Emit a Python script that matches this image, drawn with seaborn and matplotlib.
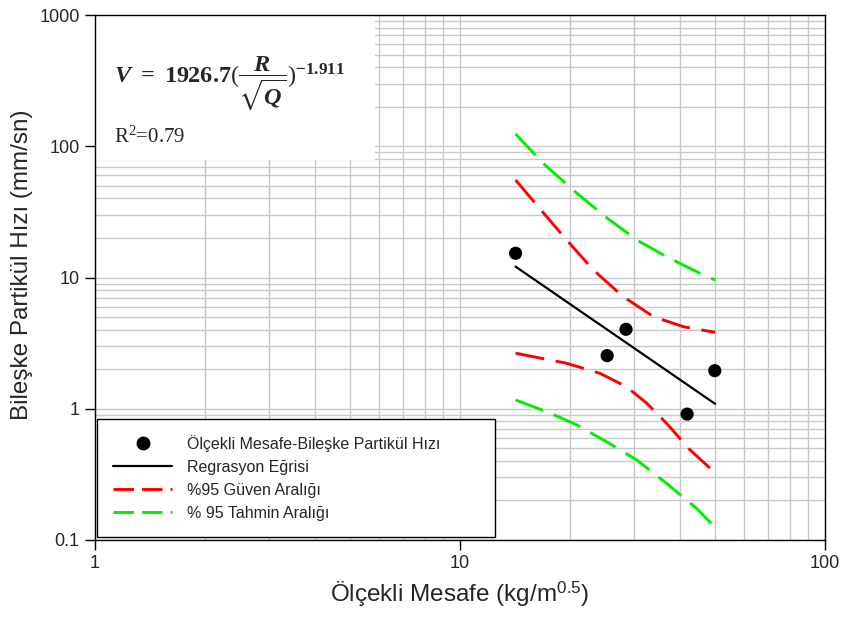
import matplotlib
matplotlib.use("Agg")
import matplotlib.pyplot as plt
import matplotlib.patches as mpatches
from matplotlib.lines import Line2D
import seaborn as sns

# ---- data ----
pts_x = [14.2, 25.3, 28.5, 41.9, 49.9]
pts_y = [15.3, 2.54, 4.03, 0.91, 1.95]

reg_x = [14.2, 50.0]
reg_y = [12.1, 1.09]

ci_up_x = [14.2, 16.6, 19.6, 23.2, 28.0, 33.9, 40.9, 50.0]
ci_up_y = [55.3, 33.1, 19.3, 11.4, 7.14, 5.03, 4.22, 3.82]
ci_lo_x = [14.2, 19.6, 24.2, 28.6, 32.5, 36.8, 42.7, 50.0]
ci_lo_y = [2.65, 2.22, 1.86, 1.47, 1.10, 0.775, 0.485, 0.325]

pi_up_x = [14.2, 16.9, 20.65, 25.0, 30.5, 36.8, 44.5, 50.0]
pi_up_y = [124, 74.1, 45.1, 29.1, 19.3, 14.4, 11.07, 9.57]
pi_lo_x = [14.2, 17.3, 20.9, 25.2, 30.5, 36.8, 44.5, 50.0]
pi_lo_y = [1.166, 0.95, 0.752, 0.561, 0.407, 0.270, 0.174, 0.125]

x_ticks = [1, 10, 100]
x_tick_labels = ["1", "10", "100"]
y_ticks = [0.1, 1, 10, 100, 1000]
y_tick_labels = ["0.1", "1", "10", "100", "1000"]

lbl_pts = "Ölçekli Mesafe-Bileşke Partikül Hızı"
lbl_reg = "Regrasyon Eğrisi"
lbl_ci = "%95 Güven Aralığı"
lbl_pi = "% 95 Tahmin Aralığı"

# ---- style ----
sns.set_style("ticks")
plt.rcParams["font.family"] = ["Liberation Sans", "DejaVu Sans"]
plt.rcParams["mathtext.fontset"] = "custom"
plt.rcParams["mathtext.rm"] = "Liberation Serif"
plt.rcParams["mathtext.it"] = "Liberation Serif:italic:bold"
plt.rcParams["mathtext.bf"] = "Liberation Serif:bold"
plt.rcParams["mathtext.sf"] = "Liberation Sans"
plt.rcParams["mathtext.fallback"] = "stix"

fig = plt.figure(figsize=(8.42, 6.19), dpi=100)
ax = fig.add_axes([95 / 842, 1 - 540 / 619, 730 / 842, 525 / 619])
ax.set_xscale("log")
ax.set_yscale("log")
ax.set_xlim(1, 100)
ax.set_ylim(0.1, 1000)

ax.set_axisbelow(True)
ax.grid(True, which="both", color="#c8c8c8", linewidth=1.0)

dash = (0, (10, 4.0))
sns.lineplot(x=pi_up_x, y=pi_up_y, ax=ax, color="#00ee00", lw=2.1,
             linestyle=dash, sort=False, estimator=None, zorder=3)
sns.lineplot(x=pi_lo_x, y=pi_lo_y, ax=ax, color="#00ee00", lw=2.1,
             linestyle=dash, sort=False, estimator=None, zorder=3)
sns.lineplot(x=ci_up_x, y=ci_up_y, ax=ax, color="#ff0000", lw=2.1,
             linestyle=dash, sort=False, estimator=None, zorder=3)
sns.lineplot(x=ci_lo_x, y=ci_lo_y, ax=ax, color="#ff0000", lw=2.1,
             linestyle=dash, sort=False, estimator=None, zorder=3)
sns.lineplot(x=reg_x, y=reg_y, ax=ax, color="black", lw=1.6,
             sort=False, estimator=None, zorder=3)
sns.scatterplot(x=pts_x, y=pts_y, ax=ax, color="black", s=90,
                edgecolor="none", zorder=4)

ax.set_xticks(x_ticks)
ax.set_xticklabels(x_tick_labels)
ax.set_yticks(y_ticks)
ax.set_yticklabels(y_tick_labels)
ax.tick_params(which="major", direction="out", length=7, width=1,
               labelsize=13, color="black", pad=4)
ax.tick_params(which="minor", length=0)
for s in ax.spines.values():
    s.set_color("black")
    s.set_linewidth(1.0)

ax.set_xlabel("Ölçekli Mesafe (kg/m$^{\\mathsf{0.5}}$)", fontsize=17.5, labelpad=5)
ax.set_ylabel("Bileşke Partikül Hızı (mm/sn)", fontsize=17.5, labelpad=5)
ax.yaxis.set_label_coords(-0.085, 0.524)

# white box with equation
box = mpatches.Rectangle((0, 0.724), 0.384, 0.276, transform=ax.transAxes,
                         facecolor="white", edgecolor="none", zorder=1)
ax.add_patch(box)
ax.text(0.026, 0.87,
        r"$V\ \mathbf{=\ 1926.7}(\dfrac{R}{\sqrt{Q}})^{\mathbf{-1.911}}$",
        transform=ax.transAxes, fontsize=17.5, va="center", ha="left", zorder=5)
ax.text(0.026, 0.768, "R$^{2}$=0.79", transform=ax.transAxes,
        fontsize=15, family=["Liberation Serif", "DejaVu Serif"],
        va="center", ha="left", zorder=5)

# legend
handles = [
    Line2D([], [], marker="o", color="black", linestyle="none", markersize=9),
    Line2D([], [], color="black", lw=1.6),
    Line2D([], [], color="#ff0000", lw=2.1, linestyle=(0, (7, 2.8))),
    Line2D([], [], color="#00ee00", lw=2.1, linestyle=(0, (7, 2.8))),
]
leg = ax.legend(handles, [lbl_pts, lbl_reg, lbl_ci, lbl_pi],
                loc="lower left", bbox_to_anchor=(0.003, 0.006, 0.545, 0.226),
                mode="expand", fontsize=11.5, frameon=True, fancybox=False,
                edgecolor="black", framealpha=1, borderpad=1.0,
                labelspacing=0.5, handlelength=3.7, handletextpad=0.95,
                borderaxespad=0)
leg.get_frame().set_linewidth(1.0)
leg.set_zorder(6)

fig.savefig("out.png", dpi=100)
